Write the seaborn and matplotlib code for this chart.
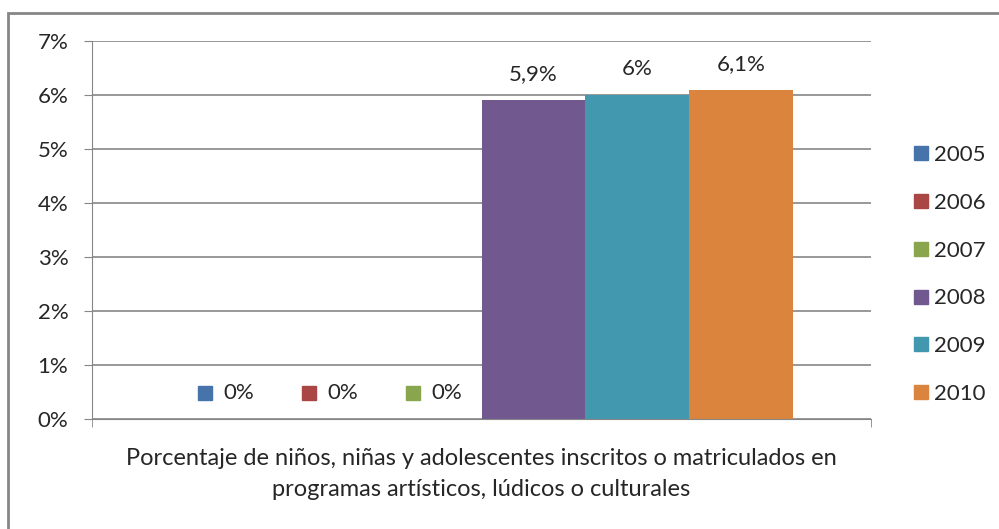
import numpy as np
import pandas as pd
import matplotlib.pyplot as plt
import matplotlib.transforms as mtransforms
from matplotlib.lines import Line2D
from matplotlib.patches import Rectangle
import seaborn as sns

anios = ['2005', '2006', '2007', '2008', '2009', '2010']
valores = [0, 0, 0, 5.9, 6, 6.1]
colores = ['#4673AA', '#AA4644', '#89A54E', '#71598F', '#4298AF', '#DB843D']
categoria = ('Porcentaje de niños, niñas y adolescentes inscritos o matriculados en\n'
             'programas artísticos, lúdicos o culturales')

df = pd.DataFrame({'cat': [categoria] * len(anios), 'anio': anios, 'valor': valores})

sns.set_style('white')
plt.rcParams['font.family'] = ['Lato', 'DejaVu Sans']
fs = 16

fig = plt.figure(figsize=(9.99, 5.29), dpi=100)
ax = fig.add_axes([92 / 999, 1 - 419 / 529, (871 - 92) / 999, (419 - 41) / 529])

sns.barplot(data=df, x='cat', y='valor', hue='anio', palette=colores,
            saturation=1, width=0.8, gap=0, linewidth=0, legend=False, ax=ax)

ax.set_xlim(-0.5, 0.5)
ax.set_ylim(0, 7)
ax.set_yticks(range(0, 8))
ax.set_yticklabels([f'{t}%' for t in range(0, 8)], fontsize=fs)
ax.yaxis.grid(True, color='#868686', linewidth=1.2)
ax.set_axisbelow(True)
ax.set_xlabel('')
ax.set_ylabel('')
for s in ['top', 'right']:
    ax.spines[s].set_visible(False)
ax.spines['left'].set_color('#868686')
ax.spines['bottom'].set_color('#868686')
ax.tick_params(axis='y', length=6, color='#868686', direction='out', left=True, pad=11)
ax.tick_params(axis='x', which='major', length=0, pad=21, labelsize=17)
ax.set_xticks([-0.5, 0.5], minor=True)
ax.tick_params(axis='x', which='minor', length=6, color='#868686', direction='out', bottom=True)
for lab in ax.get_xticklabels():
    lab.set_linespacing(1.55)

# etiquetas de datos
for cont, v, c in zip(ax.containers, valores, colores):
    bar = cont.patches[0]
    cx = bar.get_x() + bar.get_width() / 2
    h = bar.get_height()
    txt = f'{v:g}'.replace('.', ',') + '%'
    if v == 0:
        ax.annotate(txt, xy=(cx, h), xytext=(2, 26), textcoords='offset pixels',
                    ha='left', va='center', fontsize=fs)
        tr = ax.transData + mtransforms.ScaledTranslation(-17 / 100, 26 / 100, fig.dpi_scale_trans)
        ax.plot([cx], [h], marker='s', markersize=10, color=c, transform=tr, clip_on=False)
    else:
        ax.annotate(txt, xy=(cx, h), xytext=(0, 26), textcoords='offset pixels',
                    ha='center', va='center', fontsize=fs)

handles = [Line2D([], [], marker='s', ls='', markersize=10, color=c) for c in colores]
fig.legend(handles, anios, loc='center left', bbox_to_anchor=(910 / 999, 1 - 274.5 / 529),
           frameon=False, fontsize=fs, handlelength=1, handletextpad=0.1,
           labelspacing=1.25, borderpad=0, borderaxespad=0)

fig.patches.append(Rectangle((8 / 999, -0.1), 2, 1.1 - 13 / 529, transform=fig.transFigure,
                             fill=False, edgecolor='#868686', linewidth=2))

fig.savefig('out.png', dpi=100)
